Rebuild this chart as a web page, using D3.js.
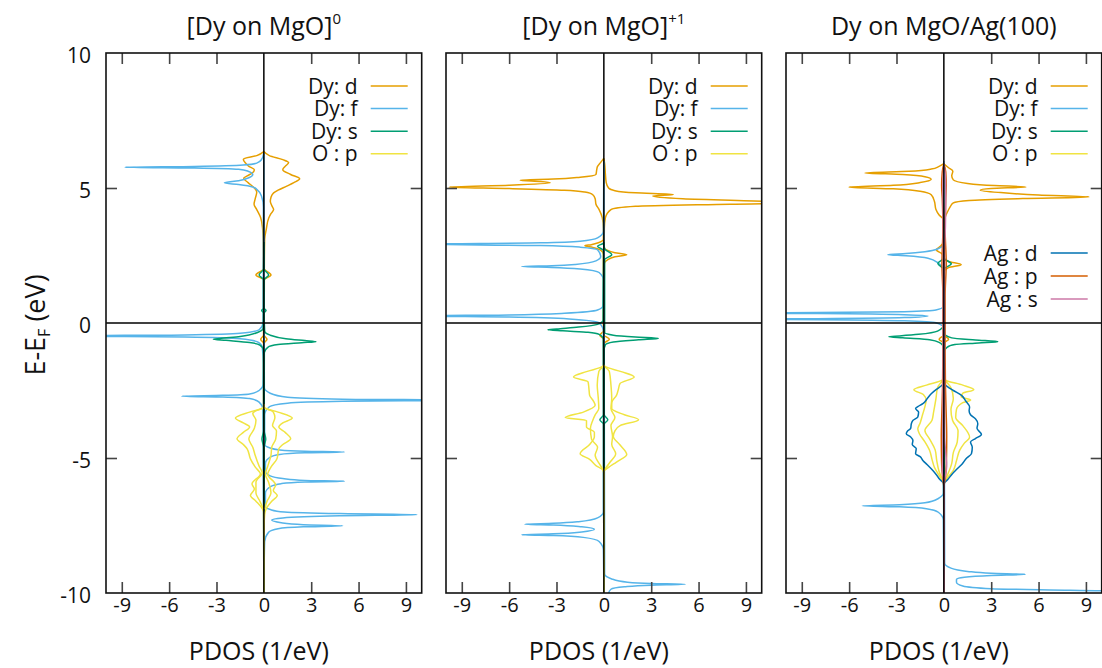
<!DOCTYPE html>
<html><head><meta charset="utf-8">
<script src="https://cdn.jsdelivr.net/npm/d3@7"></script>
<style>body{margin:0;background:#fff} svg text{font-family:"Open Sans",Lato,sans-serif;fill:#111}</style>
</head><body><svg id="c" width="1102" height="668"></svg>
<script>
// ---------- tick labels / text ----------
const xTicks = [-9,-6,-3,0,3,6,9];
const yTicks = [10,5,0,-5,-10];
const panelTitles = ["[Dy on MgO]", "[Dy on MgO]", "Dy on MgO/Ag(100)"];
const titleSup = ["0", "+1", ""];
const legendDy = ["Dy: d","Dy: f","Dy: s","O : p"];
const legendAg = ["Ag : d","Ag : p","Ag : s"];

// ---------- data: [energy (eV), PDOS (1/eV)], up > 0, down < 0 ----------
// Panel 1 : [Dy on MgO]0
const mgo0_Dy_d_up = [[6.35,0],[6.2,0.35],[6.05,1.2],[5.94,1.57],[5.8,1.35],[5.68,1.2],[5.5,1.7],[5.34,2.27],[5.2,1.9],[5.07,1.45],[4.92,0.9],[4.82,0.62],[4.65,0.45],[4.51,0.41],[4.35,0.5],[4.2,0.62],[4.05,0.45],[3.89,0.31],[3.46,0.15],[3.1,0.05],[2.0,0.03],[1.78,0.45],[1.6,0.03],[-0.45,0.02],[-0.6,0.2],[-0.75,0.02],[-10,0]];
const mgo0_Dy_d_dn = [[6.35,0],[6.2,-0.45],[6.06,-1.3],[5.92,-1.15],[5.8,-0.95],[5.68,-0.6],[5.55,-0.75],[5.45,-1.05],[5.36,-1.28],[5.2,-1.0],[5.0,-0.6],[4.85,-0.45],[4.6,-0.55],[4.4,-0.62],[4.2,-0.45],[3.9,-0.2],[3.5,-0.08],[3.0,-0.04],[2.0,-0.03],[1.78,-0.5],[1.6,-0.03],[-0.45,-0.02],[-0.6,-0.2],[-0.75,-0.02],[-10,0]];
const mgo0_Dy_f_up = [[6.3,0],[-2.4,0.03],[-2.6,0.4],[-2.75,1.5],[-2.82,5],[-2.86,13],[-2.9,5],[-2.97,1.5],[-3.1,0.35],[-3.4,0.05],[-4.5,0.05],[-4.62,0.35],[-4.7,1.0],[-4.75,2.6],[-4.78,5.1],[-4.81,2.6],[-4.87,1.0],[-4.97,0.4],[-5.2,0.1],[-5.5,0.1],[-5.66,0.4],[-5.76,1.2],[-5.83,2.6],[-5.86,5.1],[-5.89,2.6],[-5.95,1.1],[-6.05,0.45],[-6.3,0.1],[-6.8,0.1],[-6.92,0.45],[-7.0,1.3],[-7.06,4.8],[-7.1,9.7],[-7.14,4.8],[-7.22,1.2],[-7.3,0.5],[-7.4,1.1],[-7.47,2.5],[-7.51,5.0],[-7.55,2.5],[-7.62,0.9],[-7.75,0.3],[-8.1,0.05],[-10,0]];
const mgo0_Dy_f_dn = [[6.3,0],[6.05,-0.15],[5.92,-0.45],[5.85,-1.3],[5.8,-4.4],[5.77,-8.8],[5.74,-4.4],[5.69,-1.6],[5.62,-1.0],[5.5,-0.7],[5.38,-0.95],[5.27,-1.6],[5.19,-2.5],[5.13,-1.6],[5.04,-0.7],[4.94,-0.43],[4.7,-0.15],[4.3,-0.03],[0.0,-0.05],[-0.25,-0.3],[-0.38,-1.5],[-0.44,-5],[-0.48,-13],[-0.52,-5],[-0.58,-1.5],[-0.7,-0.4],[-0.9,-0.1],[-1.5,-0.03],[-2.3,-0.05],[-2.5,-0.3],[-2.63,-0.9],[-2.68,-2.6],[-2.71,-5.2],[-2.74,-2.6],[-2.8,-0.9],[-2.93,-0.3],[-3.2,-0.05],[-10,0]];
const mgo0_Dy_s_up = [[3.0,0],[2.0,0.02],[1.78,0.3],[1.6,0.02],[0.55,0.02],[0.46,0.14],[0.37,0.02],[-0.3,0.05],[-0.45,0.4],[-0.58,1.4],[-0.65,2.6],[-0.69,3.3],[-0.73,2.4],[-0.8,0.9],[-0.9,0.25],[-1.1,0.03],[-4.0,0.02],[-4.3,0.12],[-4.6,0.02],[-10,0]];
const mgo0_Dy_s_dn = [[3.0,0],[2.0,-0.02],[1.78,-0.3],[1.6,-0.02],[0.55,-0.02],[0.46,-0.14],[0.37,-0.02],[-0.2,-0.05],[-0.35,-0.4],[-0.5,-1.5],[-0.57,-2.8],[-0.6,-3.2],[-0.64,-2.4],[-0.72,-0.9],[-0.82,-0.25],[-1.0,-0.03],[-4.0,-0.02],[-4.3,-0.12],[-4.6,-0.02],[-10,0]];
const mgo0_O_p_up1 = [[-3.0,0],[-3.15,0.05],[-3.3,0.9],[-3.52,1.8],[-3.7,1.2],[-3.85,0.95],[-4.05,1.35],[-4.29,1.7],[-4.5,1.2],[-4.66,0.95],[-5.03,0.83],[-5.34,0.45],[-5.6,0.24],[-6.0,0.75],[-6.2,0.6],[-6.39,0.85],[-6.6,0.5],[-6.88,0.15],[-7.1,0.05],[-7.5,0.02],[-10,0]];
const mgo0_O_p_up2 = [[-3.15,0.05],[-3.3,0.6],[-3.5,0.7],[-3.8,0.55],[-4.0,0.8],[-4.3,0.75],[-4.6,0.5],[-4.9,0.45],[-5.3,0.25],[-5.6,0.1],[-5.9,0.3],[-6.3,0.45],[-6.6,0.2],[-6.9,0.05]];
const mgo0_O_p_dn1 = [[-3.0,0],[-3.15,-0.05],[-3.3,-0.9],[-3.52,-1.8],[-3.7,-1.3],[-3.85,-0.9],[-4.05,-1.3],[-4.29,-1.7],[-4.5,-1.3],[-4.66,-1.06],[-5.03,-0.85],[-5.34,-0.54],[-5.59,-0.22],[-5.96,-0.75],[-6.15,-0.6],[-6.39,-0.85],[-6.6,-0.5],[-6.88,-0.1],[-7.0,-0.02],[-10,0]];
const mgo0_O_p_dn2 = [[-3.15,-0.05],[-3.35,-0.7],[-3.6,-0.5],[-3.9,-0.6],[-4.3,-0.95],[-4.6,-0.7],[-4.9,-0.55],[-5.3,-0.3],[-5.55,-0.1],[-5.9,-0.5],[-6.3,-0.5],[-6.6,-0.25],[-6.9,-0.02]];

// Panel 2 : [Dy on MgO]+1
const mgo1_Dy_d_up = [[6.1,0],[5.9,0.05],[5.5,0.1],[5.2,0.15],[5.0,0.3],[4.9,0.7],[4.82,2.0],[4.76,4.4],[4.7,3.1],[4.6,5.0],[4.52,9.5],[4.46,13],[4.4,8],[4.32,2],[4.2,0.45],[3.9,0.1],[3.5,0.03],[2.8,0.02],[2.7,0.2],[2.6,0.7],[2.53,1.45],[2.45,0.7],[2.35,0.25],[2.2,0.03],[-0.45,0.02],[-0.6,0.35],[-0.75,0.02],[-10,0]];
const mgo1_Dy_d_dn = [[6.1,0],[5.95,-0.2],[5.8,-0.4],[5.68,-0.45],[5.5,-0.5],[5.4,-1.5],[5.33,-3.2],[5.29,-5.3],[5.24,-4.0],[5.19,-3.4],[5.1,-6],[5.03,-9.8],[4.98,-6],[4.92,-2.5],[4.85,-1.2],[4.75,-0.7],[4.6,-0.55],[4.4,-0.5],[4.2,-0.3],[3.9,-0.1],[3.5,-0.03],[3.1,-0.03],[2.97,-0.35],[2.9,-0.8],[2.86,-1.2],[2.8,-0.7],[2.7,-0.2],[2.55,-0.03],[-0.3,-0.03],[-0.45,-0.25],[-0.6,-0.03],[-10,0]];
const mgo1_Dy_f_up = [[6,0],[-9.3,0.05],[-9.48,0.5],[-9.6,1.5],[-9.65,3.0],[-9.68,5.15],[-9.71,3.0],[-9.77,1.3],[-9.86,0.45],[-10,0.3]];
const mgo1_Dy_f_dn = [[6,0],[3.4,-0.03],[3.15,-0.4],[3.03,-1.5],[2.97,-4],[2.92,-12],[2.87,-4],[2.81,-1.5],[2.71,-0.4],[2.45,-0.2],[2.3,-0.5],[2.17,-1.8],[2.12,-3.3],[2.09,-5.2],[2.06,-3.3],[2.0,-1.5],[1.87,-0.3],[1.6,-0.03],[0.65,-0.05],[0.48,-0.4],[0.36,-2.5],[0.3,-6],[0.26,-12],[0.22,-6],[0.15,-2.2],[0.01,-0.3],[-0.3,-0.03],[-7.0,-0.03],[-7.22,-0.4],[-7.36,-1.6],[-7.42,-3.2],[-7.45,-5.0],[-7.48,-3.2],[-7.55,-1.4],[-7.64,-0.6],[-7.74,-1.4],[-7.81,-3.2],[-7.84,-5.2],[-7.87,-3.2],[-7.94,-1.3],[-8.09,-0.3],[-8.4,-0.03],[-10,0]];
const mgo1_Dy_s_up = [[3.0,0],[2.75,0.05],[2.53,0.5],[2.35,0.05],[-0.35,0.05],[-0.45,0.6],[-0.52,2.0],[-0.57,3.45],[-0.62,2.2],[-0.7,0.6],[-0.8,0.1],[-1.0,0.02],[-3.4,0.02],[-3.58,0.25],[-3.75,0.02],[-10,0]];
const mgo1_Dy_s_dn = [[3.0,0],[2.95,-0.05],[2.84,-0.4],[2.7,-0.05],[2.6,-0.02],[0.1,-0.05],[-0.05,-0.4],[-0.15,-1.6],[-0.22,-3.0],[-0.25,-3.55],[-0.29,-2.6],[-0.34,-1.0],[-0.42,-0.3],[-0.6,-0.03],[-3.4,-0.02],[-3.58,-0.25],[-3.75,-0.02],[-10,0]];
const mgo1_O_p_up1 = [[-1.55,0],[-1.62,0.1],[-1.8,1.1],[-2.0,1.92],[-2.24,1.03],[-2.5,0.9],[-2.68,0.8],[-2.95,0.5],[-3.17,0.5],[-3.4,1.3],[-3.58,2.2],[-3.8,1.03],[-4.0,0.7],[-4.2,0.6],[-4.5,1.0],[-4.87,1.45],[-5.15,0.8],[-5.35,0.3],[-5.5,0],[-10,0]];
const mgo1_O_p_up2 = [[-1.62,0.05],[-1.8,0.35],[-2.3,0.45],[-2.8,0.5],[-3.17,0.45],[-3.5,0.7],[-3.8,0.45],[-4.2,0.55],[-4.5,0.5],[-4.84,0.75],[-5.15,0.4],[-5.45,0.02]];
const mgo1_O_p_dn1 = [[-1.55,0],[-1.62,-0.1],[-1.8,-1.1],[-2.0,-1.92],[-2.18,-1.0],[-2.4,-0.95],[-2.68,-0.9],[-2.9,-0.65],[-3.05,-0.55],[-3.3,-1.3],[-3.5,-2.45],[-3.61,-1.1],[-3.85,-1.1],[-4.05,-0.6],[-4.2,-0.6],[-4.5,-0.9],[-4.84,-1.5],[-5.05,-0.9],[-5.28,-0.5],[-5.45,-0.05],[-5.6,0],[-10,0]];
const mgo1_O_p_dn2 = [[-1.62,-0.05],[-1.8,-0.32],[-2.3,-0.42],[-2.8,-0.35],[-3.17,-0.32],[-3.4,-0.55],[-3.6,-0.7],[-3.9,-0.85],[-4.3,-0.78],[-4.6,-0.4],[-4.9,-0.55],[-5.2,-0.3],[-5.45,-0.02]];

// Panel 3 : Dy on MgO/Ag(100)
const ag_Dy_d_up = [[5.9,0],[5.75,0.3],[5.62,0.57],[5.45,0.5],[5.3,0.6],[5.17,1.5],[5.09,3.2],[5.04,5.2],[4.98,3.0],[4.92,2.3],[4.83,3.6],[4.74,6.0],[4.67,9.2],[4.61,5.0],[4.54,1.6],[4.45,0.6],[4.3,0.4],[4.14,0.25],[3.8,0.05],[2.4,0.03],[2.28,0.3],[2.16,1.1],[2.05,0.3],[1.9,0.03],[-0.45,0.02],[-0.6,0.3],[-0.75,0.02],[-10,0]];
const ag_Dy_d_dn = [[5.9,0],[5.8,-0.3],[5.7,-0.8],[5.62,-2.2],[5.56,-5.0],[5.5,-2.6],[5.42,-1.2],[5.32,-0.8],[5.2,-1.5],[5.1,-3.2],[5.03,-6.0],[4.97,-3.2],[4.88,-1.5],[4.75,-0.8],[4.51,-0.6],[4.2,-0.5],[4.0,-0.3],[3.85,-0.05],[3.0,-0.03],[2.85,-0.2],[2.71,-0.48],[2.55,-0.1],[2.4,-0.02],[-0.45,-0.02],[-0.6,-0.3],[-0.75,-0.02],[-10,0]];
const ag_Dy_f_up = [[6,0],[-8.9,0.05],[-9.08,0.45],[-9.2,1.5],[-9.27,3],[-9.31,5.17],[-9.35,3],[-9.42,1.3],[-9.5,0.8],[-9.6,0.8],[-9.74,1.2],[-9.84,3],[-9.9,8],[-9.95,12],[-10,12]];
const ag_Dy_f_dn = [[3.2,0],[2.9,-0.05],[2.74,-0.4],[2.64,-1.2],[2.57,-2.4],[2.53,-3.55],[2.49,-2.4],[2.4,-1.0],[2.22,-0.35],[2.0,-0.05],[0.6,-0.05],[0.48,-0.5],[0.42,-2.5],[0.39,-8],[0.37,-14],[0.35,-8],[0.31,-2.5],[0.26,-1.0],[0.2,-2.5],[0.16,-8],[0.14,-14],[0.12,-8],[0.08,-2.5],[0.01,-0.5],[-0.15,-0.05],[-6.3,-0.03],[-6.5,-0.35],[-6.66,-1.2],[-6.73,-2.8],[-6.77,-5.17],[-6.81,-2.8],[-6.88,-1.1],[-7.01,-0.35],[-7.3,-0.03],[-10,0]];
const ag_Dy_s_up = [[3,0],[2.4,0.03],[2.19,0.47],[2.0,0.03],[-0.4,0.05],[-0.55,0.5],[-0.63,2.0],[-0.69,3.42],[-0.74,2.2],[-0.8,0.7],[-0.9,0.2],[-1.05,0.03],[-10,0]];
const ag_Dy_s_dn = [[3,0],[2.4,-0.03],[2.2,-0.38],[2.0,-0.03],[-0.1,-0.05],[-0.3,-0.4],[-0.42,-1.6],[-0.48,-2.8],[-0.51,-3.48],[-0.55,-2.6],[-0.62,-0.9],[-0.72,-0.3],[-0.9,-0.03],[-10,0]];
const ag_O_p_up1 = [[-2.05,0],[-2.12,0.1],[-2.3,1.2],[-2.47,1.9],[-2.6,1.2],[-2.74,1.1],[-2.85,1.7],[-2.95,1.2],[-3.2,0.8],[-3.5,0.75],[-3.8,1.2],[-4.23,1.63],[-4.45,1.3],[-4.72,1.0],[-5.1,0.8],[-5.46,0.6],[-5.75,0.2],[-5.95,0],[-10,0]];
const ag_O_p_up2 = [[-2.12,0.05],[-2.4,0.45],[-2.8,0.6],[-3.2,0.45],[-3.6,0.55],[-4.0,0.9],[-4.4,0.85],[-4.8,0.6],[-5.2,0.5],[-5.6,0.25],[-5.85,0.05]];
const ag_O_p_dn1 = [[-2.05,0],[-2.12,-0.1],[-2.3,-1.1],[-2.47,-1.9],[-2.65,-1.3],[-2.86,-1.12],[-3.1,-1.2],[-3.4,-1.35],[-3.7,-1.5],[-3.92,-1.65],[-4.1,-1.55],[-4.4,-1.2],[-4.72,-0.9],[-5.05,-0.75],[-5.34,-0.6],[-5.6,-0.35],[-5.83,-0.1],[-5.95,0],[-10,0]];
const ag_O_p_dn2 = [[-2.12,-0.05],[-2.4,-0.4],[-2.8,-0.5],[-3.3,-0.65],[-3.6,-0.75],[-3.98,-1.2],[-4.3,-0.9],[-4.7,-0.55],[-5.1,-0.45],[-5.5,-0.3],[-5.85,-0.05]];
const ag_Ag_d_up = [[-2.2,0],[-2.3,0.1],[-2.5,0.6],[-2.68,1.12],[-2.9,1.4],[-3.11,1.63],[-3.25,1.6],[-3.4,1.69],[-3.55,2.0],[-3.73,2.15],[-3.9,2.1],[-4.13,2.38],[-4.28,2.0],[-4.41,1.69],[-4.6,1.8],[-4.84,1.75],[-5.0,1.45],[-5.22,1.16],[-5.4,0.85],[-5.59,0.53],[-5.8,0.25],[-5.96,0],[-10,0]];
const ag_Ag_d_dn = [[-2.2,0],[-2.3,-0.1],[-2.45,-0.45],[-2.62,-0.8],[-2.8,-1.05],[-2.99,-1.33],[-3.1,-1.65],[-3.17,-1.79],[-3.3,-1.6],[-3.48,-1.65],[-3.6,-1.95],[-3.73,-2.06],[-3.9,-2.1],[-4.0,-2.3],[-4.1,-2.38],[-4.22,-2.1],[-4.35,-1.96],[-4.5,-2.0],[-4.65,-1.75],[-4.84,-1.79],[-4.95,-1.5],[-5.09,-1.33],[-5.25,-1.05],[-5.4,-0.8],[-5.6,-0.5],[-5.8,-0.25],[-5.96,0],[-10,0]];
const ag_Ag_p_up = [[5.9,0],[5.6,0.12],[5.1,0.15],[4.6,0.12],[3.5,0.08],[2.2,0.15],[1,0.08],[-1,0.08],[-2.3,0.1],[-3.2,0.14],[-4.2,0.18],[-5.2,0.16],[-5.8,0.08],[-6.1,0],[-10,0]];
const ag_Ag_p_dn = [[5.9,0],[5.6,-0.1],[5.1,-0.14],[4.6,-0.1],[3.5,-0.06],[2.2,-0.12],[1,-0.06],[-1,-0.06],[-2.3,-0.08],[-3.2,-0.12],[-4.2,-0.16],[-5.2,-0.14],[-5.8,-0.06],[-6.1,0],[-10,0]];
const ag_Ag_s_up = [[5.9,0],[5.4,0.1],[4.6,0.12],[3.6,0.1],[2.6,0.04],[-4.2,0.04],[-4.8,0.12],[-5.3,0.18],[-5.7,0.08],[-6,0],[-10,0]];
const ag_Ag_s_dn = [[5.9,0],[5,-0.06],[3,-0.04],[-4.8,-0.06],[-5.4,-0.1],[-6,0],[-10,0]];

// ---------- styles ----------
const colors = {Dy_d:"#E69F00", Dy_f:"#56B4E9", Dy_s:"#009E73", O_p:"#F0E442", Ag_d:"#0072B2", Ag_p:"#D55E00", Ag_s:"#CC79A7"};
const panels = [
  {series:[["Dy_d",mgo0_Dy_d_up],["Dy_d",mgo0_Dy_d_dn],["Dy_f",mgo0_Dy_f_up],["Dy_f",mgo0_Dy_f_dn],["Dy_s",mgo0_Dy_s_up],["Dy_s",mgo0_Dy_s_dn],["O_p",mgo0_O_p_up1],["O_p",mgo0_O_p_up2],["O_p",mgo0_O_p_dn1],["O_p",mgo0_O_p_dn2]], ag:false},
  {series:[["Dy_d",mgo1_Dy_d_up],["Dy_d",mgo1_Dy_d_dn],["Dy_f",mgo1_Dy_f_up],["Dy_f",mgo1_Dy_f_dn],["Dy_s",mgo1_Dy_s_up],["Dy_s",mgo1_Dy_s_dn],["O_p",mgo1_O_p_up1],["O_p",mgo1_O_p_up2],["O_p",mgo1_O_p_dn1],["O_p",mgo1_O_p_dn2]], ag:false},
  {series:[["Dy_d",ag_Dy_d_up],["Dy_d",ag_Dy_d_dn],["Dy_f",ag_Dy_f_up],["Dy_f",ag_Dy_f_dn],["Dy_s",ag_Dy_s_up],["Dy_s",ag_Dy_s_dn],["O_p",ag_O_p_up1],["O_p",ag_O_p_up2],["O_p",ag_O_p_dn1],["O_p",ag_O_p_dn2],["Ag_d",ag_Ag_d_up],["Ag_d",ag_Ag_d_dn],["Ag_p",ag_Ag_p_up],["Ag_p",ag_Ag_p_dn],["Ag_s",ag_Ag_s_up],["Ag_s",ag_Ag_s_dn]], ag:true}
];
const legendKeysDy = ["Dy_d","Dy_f","Dy_s","O_p"];
const legendKeysAg = ["Ag_d","Ag_p","Ag_s"];

// ---------- layout ----------
const lefts = [106, 446, 786], pw = 315.7, yTop = 53, yBot = 593;
const svg = d3.select("#c");
const y = d3.scaleLinear().domain([-10,10]).range([yBot, yTop]);
const defs = svg.append("defs");
const fmt = d => String(d);

panels.forEach((p,i)=>{
  const L = lefts[i];
  const x = d3.scaleLinear().domain([-10,10]).range([L, L+pw]);
  const g = svg.append("g");
  defs.append("clipPath").attr("id","clip"+i).append("rect")
    .attr("x",L).attr("y",yTop).attr("width",pw).attr("height",yBot-yTop);
  const cg = g.append("g").attr("clip-path",`url(#clip${i})`);
  const line = d3.line().x(d=>x(d[1])).y(d=>y(d[0])).curve(d3.curveMonotoneY);
  p.series.forEach(([k,data])=>{
    cg.append("path").attr("d",line(data)).attr("fill","none")
      .attr("stroke",colors[k]).attr("stroke-width",1.5).attr("stroke-linejoin","round");
  });
  // zero lines
  g.append("line").attr("x1",x(0)).attr("x2",x(0)).attr("y1",yTop).attr("y2",yBot)
    .attr("stroke","#000").attr("stroke-width",1.5);
  g.append("line").attr("x1",L).attr("x2",L+pw).attr("y1",y(0)).attr("y2",y(0))
    .attr("stroke","#000").attr("stroke-width",1.5);
  // inward ticks
  const tickVals = xTicks.filter(v=>v!==0);
  const tk = [
    g.append("g").attr("transform",`translate(0,${yBot})`).call(d3.axisTop(x).tickValues(tickVals).tickSize(11).tickFormat("")),
    g.append("g").attr("transform",`translate(0,${yTop})`).call(d3.axisBottom(x).tickValues(tickVals).tickSize(11).tickFormat("")),
    g.append("g").attr("transform",`translate(${L},0)`).call(d3.axisRight(y).tickValues([5,-5]).tickSize(11).tickFormat("")),
    g.append("g").attr("transform",`translate(${L+pw},0)`).call(d3.axisLeft(y).tickValues([5,-5]).tickSize(11).tickFormat(""))
  ];
  tk.forEach(a=>{ a.select(".domain").remove(); a.selectAll("line").attr("stroke","#444").attr("stroke-width",1.6); });
  // frame
  g.append("rect").attr("x",L).attr("y",yTop).attr("width",pw).attr("height",yBot-yTop)
    .attr("fill","none").attr("stroke","#111").attr("stroke-width",1.6);
  // x tick labels
  const xa = g.append("g").attr("transform",`translate(0,${yBot})`)
    .call(d3.axisBottom(x).tickValues(xTicks).tickFormat(fmt).tickSize(0).tickPadding(5));
  xa.select(".domain").remove();
  xa.attr("font-family",null).attr("font-size",null);
  xa.selectAll("text").attr("font-size",20).attr("fill","#111");
  // y tick labels (first panel only)
  if(i===0){
    const ya = g.append("g").attr("transform",`translate(${L},0)`)
      .call(d3.axisLeft(y).tickValues(yTicks).tickFormat(fmt).tickSize(0).tickPadding(15));
    ya.select(".domain").remove();
    ya.attr("font-family",null).attr("font-size",null);
    ya.selectAll("text").attr("font-size",21).attr("dy","0.45em").attr("fill","#111");
  }
  // title
  const t = g.append("text").attr("x",L+pw/2).attr("y",35).attr("text-anchor","middle").attr("font-size",25).text(panelTitles[i]);
  if(titleSup[i]) t.append("tspan").attr("font-size",15).attr("dy",-11).text(titleSup[i]);
  // x label
  g.append("text").attr("x",L+pw/2-5).attr("y",660).attr("text-anchor","middle").attr("font-size",25).text("PDOS (1/eV)");
  // legend
  const R = L+pw;
  const addLegend = (labels, keys, y0, dy)=>{
    labels.forEach((lab,j)=>{
      const yy = y0 + j*dy;
      g.append("text").attr("x",R-64).attr("y",yy+7.5).attr("text-anchor","end").attr("font-size",21).text(lab);
      g.append("line").attr("x1",R-51).attr("x2",R-14).attr("y1",yy).attr("y2",yy)
        .attr("stroke",colors[keys[j]]).attr("stroke-width",1.5);
    });
  };
  addLegend(legendDy, legendKeysDy, 86, 22.6);
  if(p.ag) addLegend(legendAg, legendKeysAg, 253, 23);
});

// y axis label
const yl = svg.append("text").attr("transform","translate(45,325) rotate(-90)").attr("text-anchor","middle").attr("font-size",27);
yl.append("tspan").text("E-E");
yl.append("tspan").attr("font-size",16).attr("dy",5).text("F");
yl.append("tspan").attr("dy",-5).text(" (eV)");
</script>
</body></html>
